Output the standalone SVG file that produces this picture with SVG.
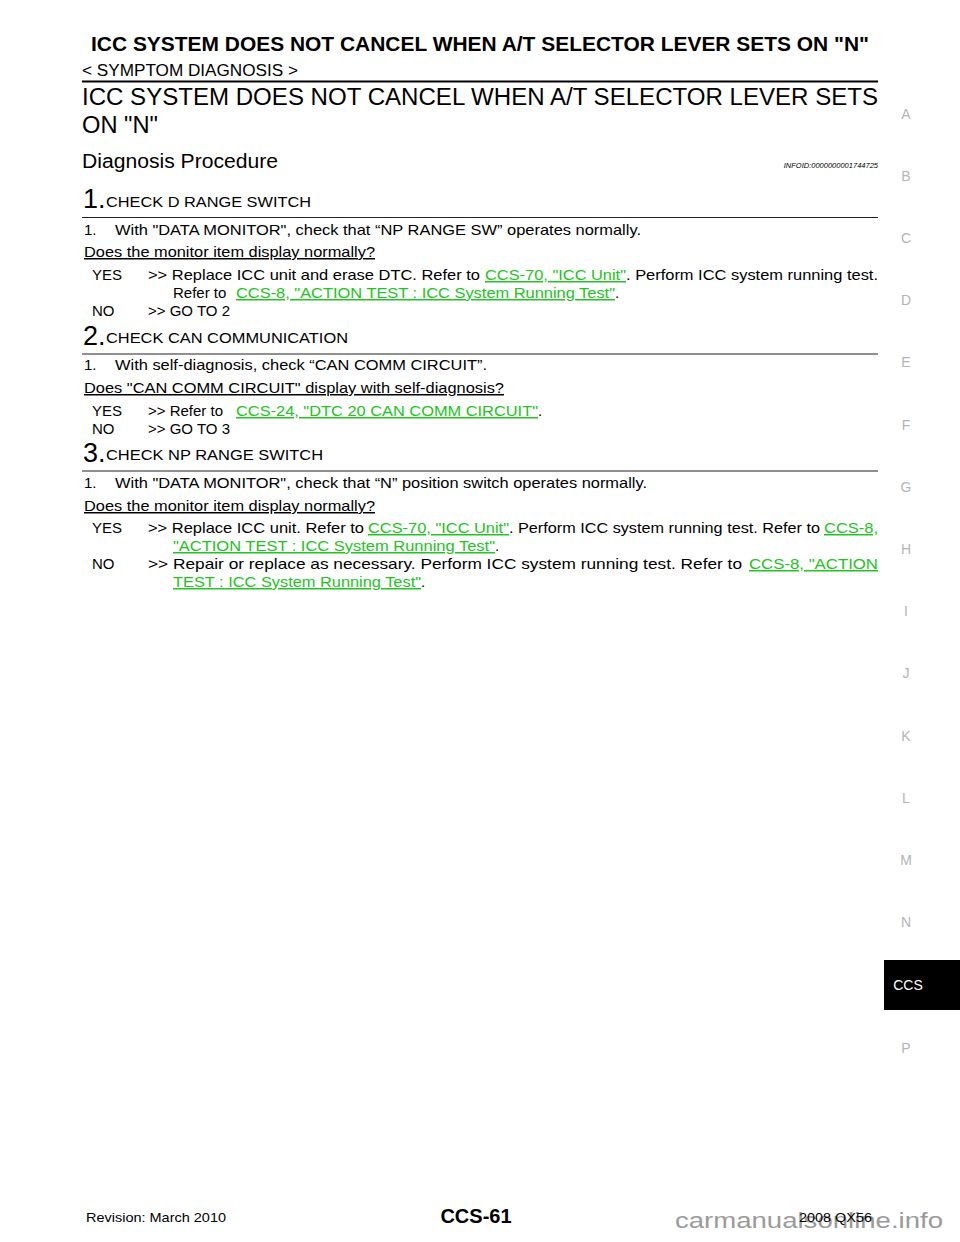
<svg xmlns="http://www.w3.org/2000/svg" width="960" height="1242" viewBox="0 0 960 1242">
<style>
text{font-family:"Liberation Sans",Arial,sans-serif;fill:#000}
.b{font-size:15px}
.h{font-size:15px}
.num{font-size:27px}
.lnk{fill:#22c322;text-decoration:underline}
.u{text-decoration:underline}
.idx{font-size:14px;fill:#b4b4b4;text-anchor:middle}
.rule{stroke:#222;stroke-width:1.2}
</style>
<rect width="960" height="1242" fill="#fff"/>
<g id="header">
<text x="91" y="51" font-size="21" font-weight="bold" textLength="778" lengthAdjust="spacingAndGlyphs">ICC SYSTEM DOES NOT CANCEL WHEN A/T SELECTOR LEVER SETS ON "N"</text>
<text x="82" y="76" font-size="16" textLength="216" lengthAdjust="spacingAndGlyphs">&lt; SYMPTOM DIAGNOSIS &gt;</text>
<line x1="82" y1="81.5" x2="878" y2="81.5" stroke="#000" stroke-width="2"/>
<text x="82" y="105" font-size="23" textLength="796" lengthAdjust="spacingAndGlyphs">ICC SYSTEM DOES NOT CANCEL WHEN A/T SELECTOR LEVER SETS</text>
<text x="82" y="133" font-size="23" textLength="76" lengthAdjust="spacingAndGlyphs">ON "N"</text>
<text x="82" y="168" font-size="20" textLength="196" lengthAdjust="spacingAndGlyphs">Diagnosis Procedure</text>
<text x="878" y="168" font-size="7.5" font-style="italic" text-anchor="end">INFOID:0000000001744725</text>
</g>
<g id="step1">
<text x="83" y="208" class="num">1.</text>
<text x="106" y="207" class="h" textLength="205" lengthAdjust="spacingAndGlyphs">CHECK D RANGE SWITCH</text>
<line x1="82" y1="217.5" x2="878" y2="217.5" class="rule"/>
<text x="84" y="235" class="b">1.</text>
<text x="115" y="235" class="b" textLength="526" lengthAdjust="spacingAndGlyphs">With "DATA MONITOR", check that “NP RANGE SW” operates normally.</text>
<text x="84" y="257" class="b u" textLength="291" lengthAdjust="spacingAndGlyphs">Does the monitor item display normally?</text>
<text x="92" y="280" class="b">YES</text>
<text x="148" y="280" class="b" textLength="332" lengthAdjust="spacingAndGlyphs">&gt;&gt; Replace ICC unit and erase DTC. Refer to</text>
<text x="485" y="280" class="b lnk" textLength="141" lengthAdjust="spacingAndGlyphs">CCS-70, "ICC Unit"</text>
<text x="626" y="280" class="b" textLength="252" lengthAdjust="spacingAndGlyphs">. Perform ICC system running test.</text>
<text x="173" y="298" class="b">Refer to</text>
<text x="236" y="298" class="b lnk" textLength="379" lengthAdjust="spacingAndGlyphs">CCS-8, "ACTION TEST : ICC System Running Test"</text>
<text x="615" y="298" class="b">.</text>
<text x="92" y="316" class="b">NO</text>
<text x="148" y="316" class="b">&gt;&gt; GO TO 2</text>
</g>
<g id="step2">
<text x="83" y="345" class="num">2.</text>
<text x="106" y="343" class="h" textLength="242" lengthAdjust="spacingAndGlyphs">CHECK CAN COMMUNICATION</text>
<line x1="82" y1="354" x2="878" y2="354" class="rule"/>
<text x="84" y="370" class="b">1.</text>
<text x="115" y="370" class="b" textLength="372" lengthAdjust="spacingAndGlyphs">With self-diagnosis, check “CAN COMM CIRCUIT”.</text>
<text x="84" y="393" class="b u" textLength="420" lengthAdjust="spacingAndGlyphs">Does "CAN COMM CIRCUIT" display with self-diagnosis?</text>
<text x="92" y="416" class="b">YES</text>
<text x="148" y="416" class="b">&gt;&gt; Refer to</text>
<text x="236" y="416" class="b lnk" textLength="302" lengthAdjust="spacingAndGlyphs">CCS-24, "DTC 20 CAN COMM CIRCUIT"</text>
<text x="538" y="416" class="b">.</text>
<text x="92" y="434" class="b">NO</text>
<text x="148" y="434" class="b">&gt;&gt; GO TO 3</text>
</g>
<g id="step3">
<text x="83" y="462" class="num">3.</text>
<text x="106" y="460" class="h" textLength="217" lengthAdjust="spacingAndGlyphs">CHECK NP RANGE SWITCH</text>
<line x1="82" y1="471" x2="878" y2="471" class="rule"/>
<text x="84" y="488" class="b">1.</text>
<text x="115" y="488" class="b" textLength="532" lengthAdjust="spacingAndGlyphs">With "DATA MONITOR", check that “N” position switch operates normally.</text>
<text x="84" y="511" class="b u" textLength="291" lengthAdjust="spacingAndGlyphs">Does the monitor item display normally?</text>
<text x="92" y="533" class="b">YES</text>
<text x="148" y="533" class="b" textLength="216" lengthAdjust="spacingAndGlyphs">&gt;&gt; Replace ICC unit. Refer to</text>
<text x="368" y="533" class="b lnk" textLength="141" lengthAdjust="spacingAndGlyphs">CCS-70, "ICC Unit"</text>
<text x="509" y="533" class="b" textLength="311" lengthAdjust="spacingAndGlyphs">. Perform ICC system running test. Refer to</text>
<text x="824" y="533" class="b lnk" textLength="54" lengthAdjust="spacingAndGlyphs">CCS-8,</text>
<text x="173" y="551" class="b lnk" textLength="322" lengthAdjust="spacingAndGlyphs">"ACTION TEST : ICC System Running Test"</text>
<text x="495" y="551" class="b">.</text>
<text x="92" y="569" class="b">NO</text>
<text x="148" y="569" class="b" textLength="594" lengthAdjust="spacingAndGlyphs">&gt;&gt; Repair or replace as necessary. Perform ICC system running test. Refer to</text>
<text x="749" y="569" class="b lnk" textLength="129" lengthAdjust="spacingAndGlyphs">CCS-8, "ACTION</text>
<text x="173" y="587" class="b lnk" textLength="248" lengthAdjust="spacingAndGlyphs">TEST : ICC System Running Test"</text>
<text x="421" y="587" class="b">.</text>
</g>
<g id="index">
<text x="906" y="119" class="idx">A</text>
<text x="906" y="181" class="idx">B</text>
<text x="906" y="243" class="idx">C</text>
<text x="906" y="305" class="idx">D</text>
<text x="906" y="367" class="idx">E</text>
<text x="906" y="430" class="idx">F</text>
<text x="906" y="492" class="idx">G</text>
<text x="906" y="554" class="idx">H</text>
<text x="906" y="616" class="idx">I</text>
<text x="906" y="678" class="idx">J</text>
<text x="906" y="741" class="idx">K</text>
<text x="906" y="803" class="idx">L</text>
<text x="906" y="865" class="idx">M</text>
<text x="906" y="927" class="idx">N</text>
<rect x="884" y="960" width="76" height="50" fill="#000"/>
<text x="908" y="990" font-size="14" fill="#fff" text-anchor="middle" style="fill:#fff">CCS</text>
<text x="906" y="1053" class="idx">P</text>
</g>
<g id="footer">
<text x="86" y="1222" font-size="13" textLength="140" lengthAdjust="spacingAndGlyphs">Revision: March 2010</text>
<text x="476" y="1223" font-size="20" font-weight="bold" text-anchor="middle">CCS-61</text>
<text x="675" y="1228" font-size="22" style="fill:#9a9a9a" textLength="268" lengthAdjust="spacingAndGlyphs">carmanualsonline.info</text>
<text x="799" y="1222" font-size="13" textLength="73" lengthAdjust="spacingAndGlyphs">2008 QX56</text>
</g>
</svg>
